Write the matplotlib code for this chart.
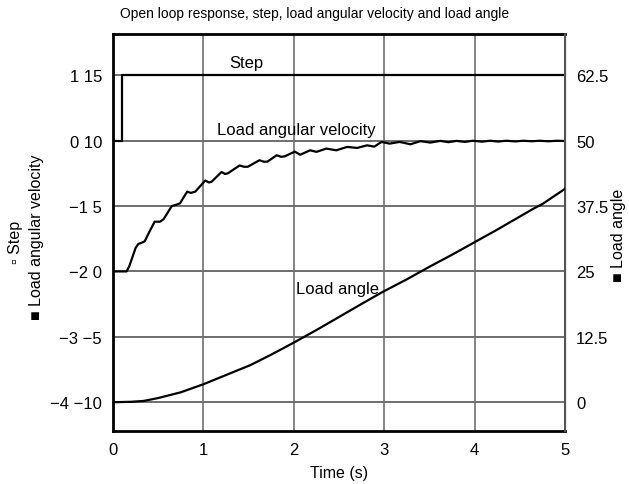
import numpy as np
import matplotlib
matplotlib.use('Agg')
import matplotlib.pyplot as plt

plt.rcParams['font.family'] = ['Liberation Sans', 'DejaVu Sans']

# step input (left axis, second scale)
step_t = [0.0, 0.1, 0.1, 5.0]
step_v = [10, 10, 15, 15]

# load angular velocity (left axis, second scale)
vel_t = [0.00, 0.15, 0.18, 0.21, 0.25, 0.28, 0.32, 0.35, 0.40, 0.46, 0.52, 0.56,
         0.65, 0.70, 0.74, 0.82, 0.86, 0.91, 1.02, 1.06, 1.09, 1.20, 1.24, 1.27,
         1.40, 1.45, 1.49, 1.62, 1.67, 1.71, 1.81, 1.86, 1.90, 2.01, 2.07, 2.18,
         2.25, 2.36, 2.47, 2.59, 2.70, 2.81, 2.89, 2.97, 3.06, 3.17, 3.29, 3.40,
         3.51, 3.62, 3.71, 3.80, 3.89, 3.98, 4.08, 4.17, 4.26, 4.35, 4.45, 4.54,
         4.63, 4.72, 4.82, 4.91, 5.00]
vel_v = [0.0, 0.0, 0.4, 1.0, 1.8, 2.1, 2.2, 2.3, 3.0, 3.8, 3.8, 4.0,
         5.0, 5.1, 5.2, 6.1, 6.0, 6.1, 6.95, 6.8, 6.85, 7.6, 7.45, 7.5,
         8.1, 8.0, 8.0, 8.5, 8.38, 8.4, 8.88, 8.76, 8.8, 9.16, 8.92, 9.26,
         9.14, 9.39, 9.26, 9.52, 9.44, 9.64, 9.54, 9.90, 9.77, 9.90, 9.72, 9.96,
         9.85, 9.98, 9.88, 9.98, 9.90, 9.99, 9.92, 9.99, 9.93, 9.99, 9.94, 9.99,
         9.95, 9.99, 9.95, 9.99, 9.97]

# load angle (right axis)
ang_t = [0.0, 0.2, 0.34, 0.5, 0.75, 1.0, 1.25, 1.52, 1.75, 2.0, 2.25, 2.5, 2.75,
         2.97, 3.25, 3.5, 3.75, 3.99, 4.25, 4.5, 4.65, 4.75, 5.0]
ang_v = [0.0, 0.08, 0.25, 0.8, 1.9, 3.44, 5.2, 7.1, 9.1, 11.4, 13.8, 16.3, 18.8,
         20.97, 23.5, 25.9, 28.2, 30.5, 33.0, 35.5, 37.0, 37.9, 40.8]

left_ticks = [-10, -5, 0, 5, 10, 15]
left_labels = ['\u22124 \u221210', '\u22123 \u22125', '\u22122 0', '\u22121 5', '0 10', '1 15']
right_ticks = [0, 12.5, 25, 37.5, 50, 62.5]
right_labels = ['0', '12.5', '25', '37.5', '50', '62.5']
x_ticks = [0, 1, 2, 3, 4, 5]

fig = plt.figure(figsize=(6.29, 4.85), dpi=100)
ax = fig.add_axes([0.1797, 0.1093, 0.7186, 0.8185])
ax2 = ax.twinx()

ax.set_xlim(0, 5)
ax.set_ylim(-12.2, 18.15)
ax2.set_ylim(-5.5, 70.4)

ax.set_xticks(x_ticks)
ax.set_yticks(left_ticks)
ax.set_yticklabels(left_labels)
ax2.set_yticks(right_ticks)
ax2.set_yticklabels(right_labels)

for y in left_ticks:
    ax.axhline(y, color='#555555', lw=1.2, zorder=1)
for x in x_ticks[1:-1]:
    ax.axvline(x, color='#707070', lw=1.2, zorder=1)

ax.plot(step_t, step_v, color='black', lw=1.6, zorder=3)
ax.plot(vel_t, vel_v, color='black', lw=1.6, zorder=3)
ax2.plot(ang_t, ang_v, color='black', lw=1.6, zorder=3)

ax.text(1.47, 16.0, 'Step', fontsize=12, ha='center', va='center')
ax.text(2.03, 10.85, 'Load angular velocity', fontsize=12, ha='center', va='center')
ax.text(2.48, -1.3, 'Load angle', fontsize=12, ha='center', va='center')

ax.tick_params(axis='both', length=0, labelsize=12, pad=8)
ax2.tick_params(axis='y', length=0, labelsize=12, pad=8)

for s in ['left', 'bottom', 'top']:
    ax.spines[s].set_linewidth(2)
    ax.spines[s].set_color('black')
ax2.spines['right'].set_linewidth(1.5)
ax2.spines['right'].set_color('#555555')
for s in ['left', 'bottom', 'top']:
    ax2.spines[s].set_visible(False)

ax.set_xlabel('Time (s)', fontsize=11.5, labelpad=6)

fig.text(0.5, 0.972, 'Open loop response, step, load angular velocity and load angle',
         fontsize=10, ha='center', va='center')

fig.text(0.024, 0.50, '\u25ab Step', rotation=90, fontsize=11.5, ha='center', va='center')
fig.text(0.058, 0.51, '\u25a0 Load angular velocity', rotation=90, fontsize=11.5,
         ha='center', va='center')
fig.text(0.983, 0.515, '\u25a0 Load angle', rotation=90, fontsize=11.5,
         ha='center', va='center')

fig.savefig('out.png', dpi=100)
